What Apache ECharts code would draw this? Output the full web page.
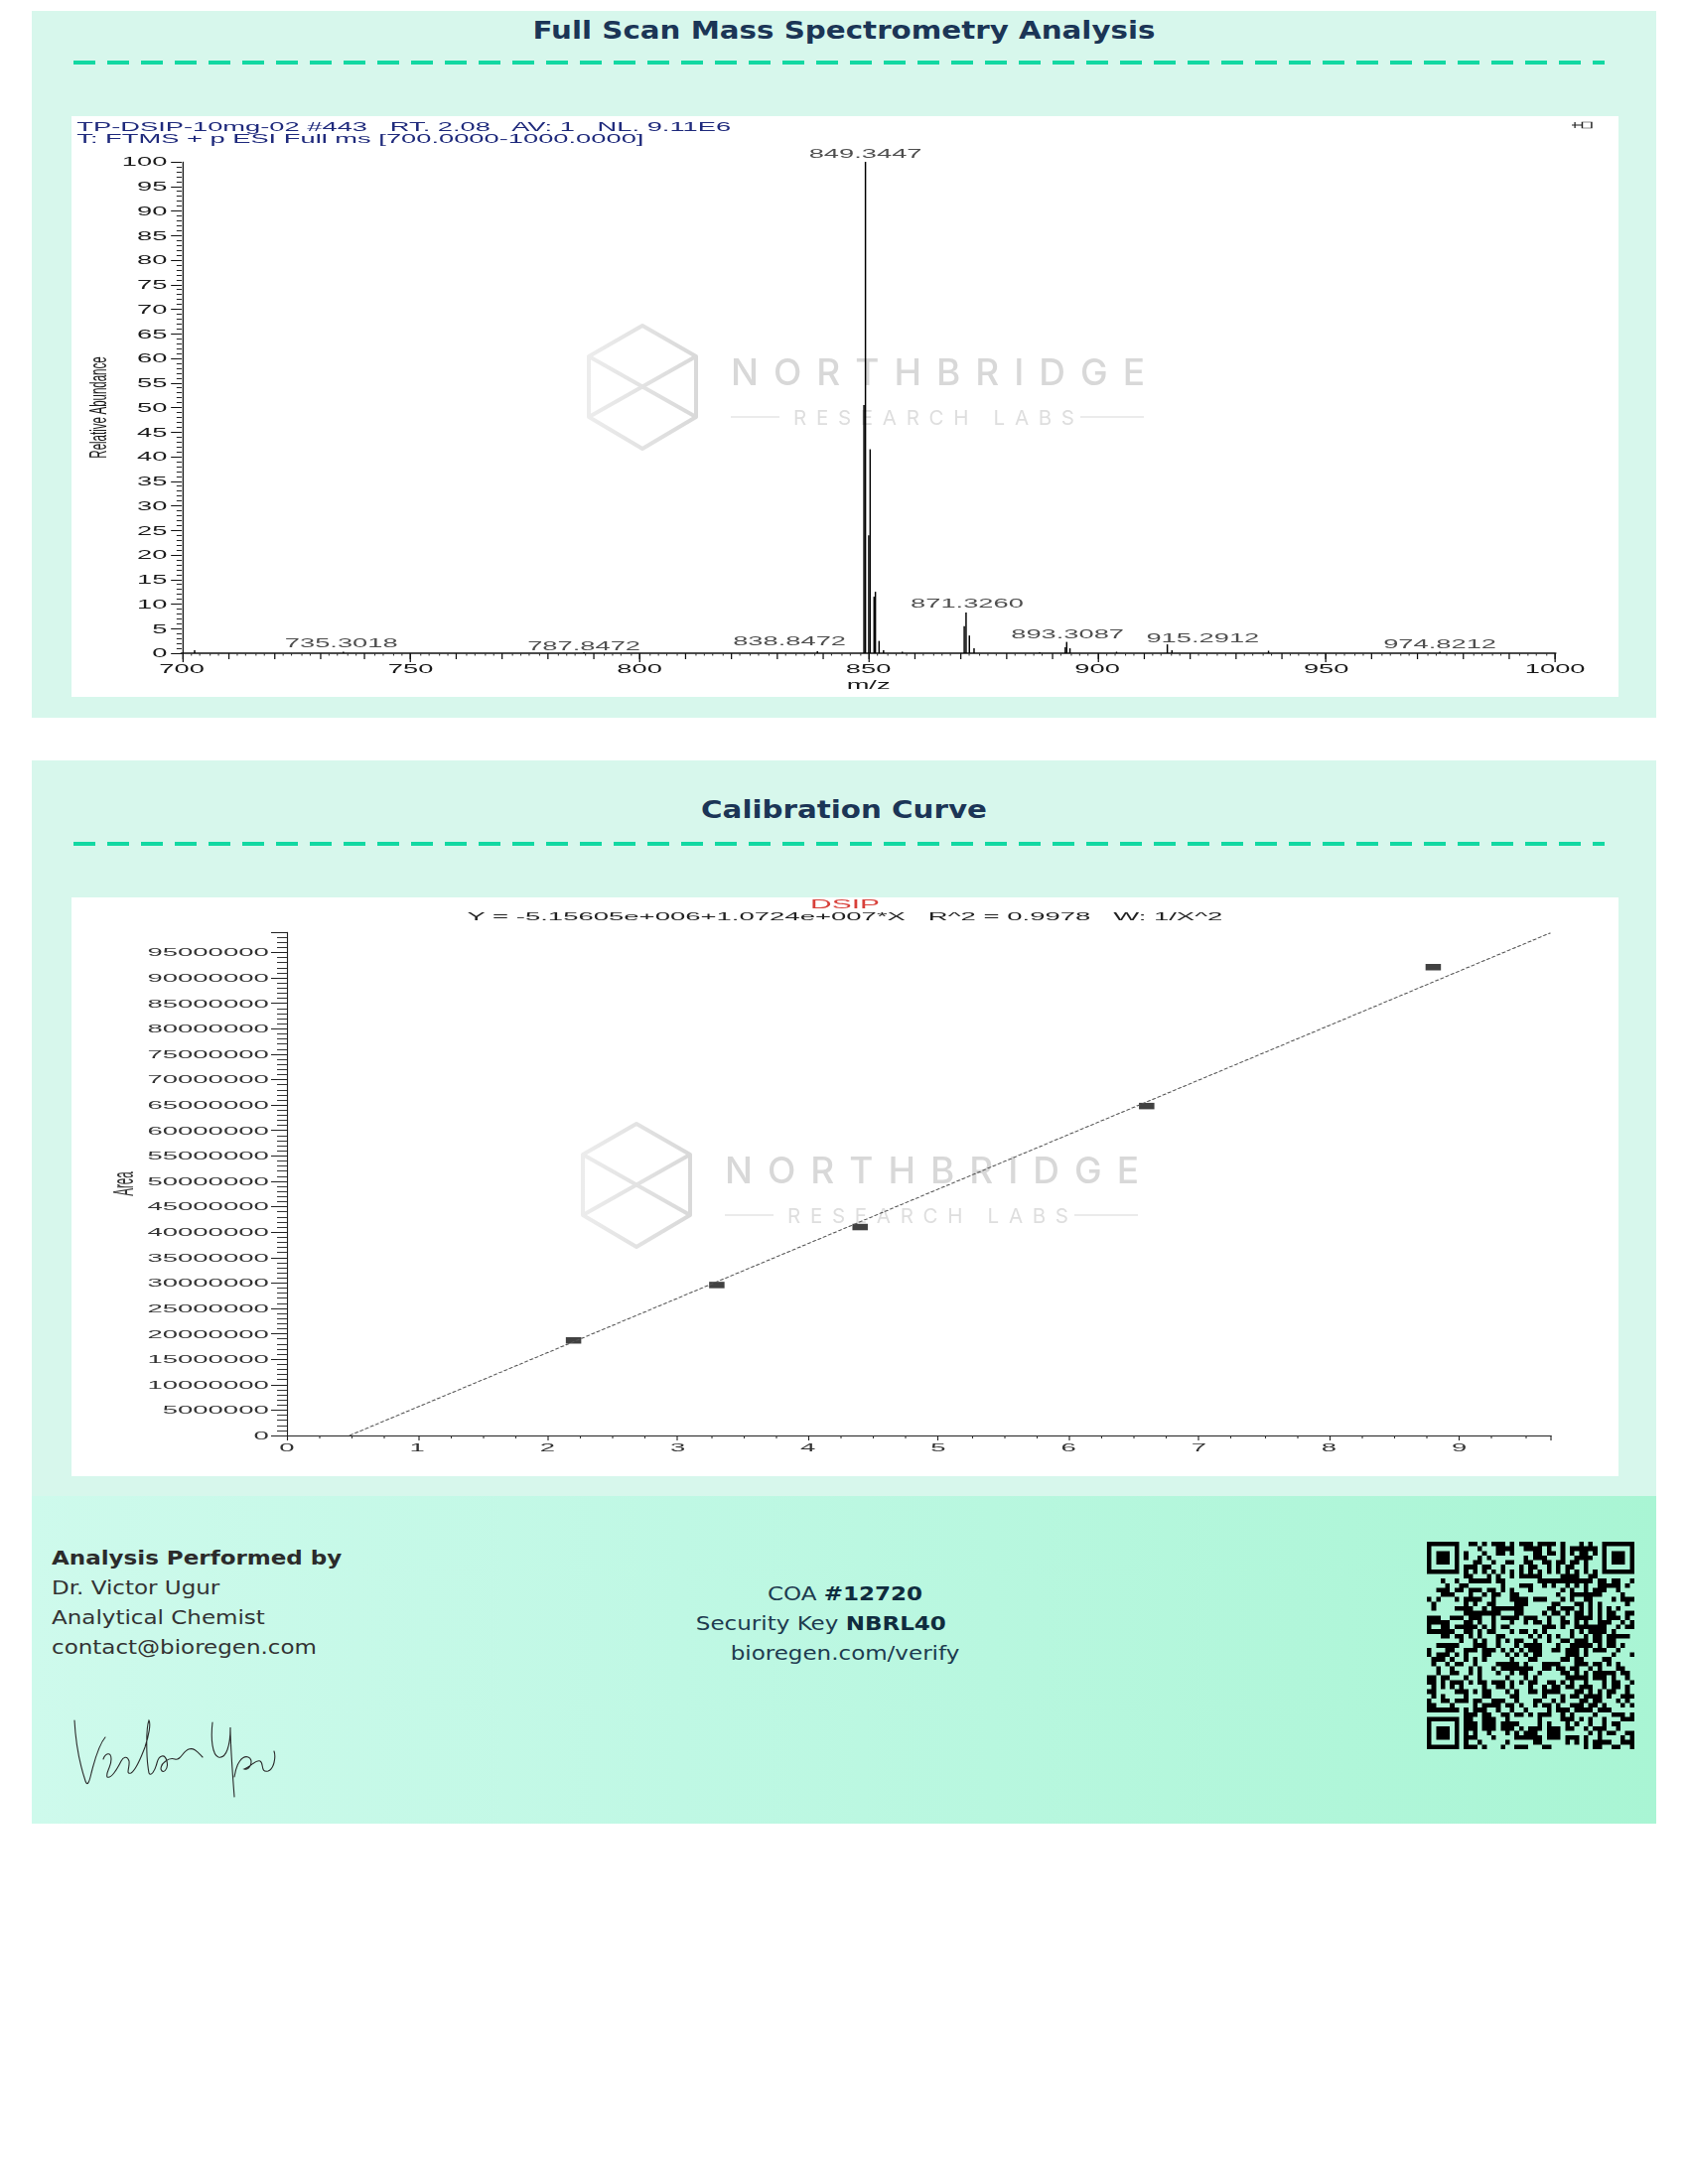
<!DOCTYPE html>
<html>
<head>
<meta charset="utf-8">
<script src="https://cdn.jsdelivr.net/npm/echarts@6.0.0/dist/echarts.min.js"></script>
<style>
  html, body { margin:0; padding:0; }
  body { width:1700px; height:2200px; background:#ffffff; position:relative; font-family:'DejaVu Sans', sans-serif; overflow:hidden; }
  .abs { position:absolute; }
  .panel { background:#d7f7ec; }
  .white { background:#ffffff; z-index:1; }
  .title { left:32px; width:1636px; text-align:center; font-weight:bold; font-size:25.5px; line-height:30px; color:#1b3556; transform:scaleX(1.15); transform-origin:center; }
  .dash { left:74px; width:1542px; height:4px; background:repeating-linear-gradient(90deg, #12d8a2 0px, #12d8a2 22px, transparent 22px, transparent 34px); }
  .chart { z-index:3; transform-origin:left top; }
  #wmsvg { z-index:2; pointer-events:none; }
  .foot { left:32px; top:1507px; width:1636px; height:330px; background:linear-gradient(90deg, #cefaec 0%, #bff8e4 40%, #a9f5d4 100%); }
  .ftxt { font-size:20px; line-height:30px; white-space:nowrap; }
</style>
</head>
<body>
<script>
// ---------------- DATA ----------------
// Full scan mass spectrum: centroid peaks (m/z, relative abundance %)
const specMz  = [702.8, 735.3, 787.85, 838.85, 849.02, 849.3447, 850.07, 850.37, 851.23, 851.52, 852.32, 853.3, 857.4,
                 870.93, 871.326, 872.05, 873.07, 887.4, 893.0, 893.3087, 894.02, 904.2, 915.2912, 916.3, 937.4, 974.8212];
const specInt = [0.6, 0.3, 0.2, 0.4, 50.5, 100, 24, 41.5, 11.5, 12.5, 2.5, 0.6, 0.3,
                 5.5, 8.3, 3.6, 1.0, 0.2, 1.2, 2.3, 1.0, 0.3, 1.8, 0.6, 0.5, 0.3];
const specLabels = ['849.3447', '871.3260', '893.3087', '915.2912', '974.8212', '735.3018', '787.8472', '838.8472'];
const specHeader1 = 'TP-DSIP-10mg-02 #443\u00a0\u00a0 RT. 2.08\u00a0\u00a0 AV: 1\u00a0\u00a0 NL. 9.11E6';
const specHeader2 = 'T: FTMS + p ESI Full ms [700.0000-1000.0000]';

// Calibration curve: concentration vs peak area
const calConc = [2.2, 3.3, 4.4, 6.6, 8.8];
const calArea = [18.7e6, 29.6e6, 41.0e6, 64.8e6, 92.1e6];
const calFitEnds = [[0.481, 0], [9.7, 98.86e6]];
const calTitle = 'DSIP';
const calEquation = 'Y = -5.15605e+006+1.0724e+007*X\u00a0\u00a0 R^2 = 0.9978\u00a0\u00a0 W: 1/X^2';
</script>

<!-- Panel 1 -->
<div class="abs panel" style="left:32px;top:11px;width:1636px;height:712px;"></div>
<div class="abs title" style="top:15px;">Full Scan Mass Spectrometry Analysis</div>
<div class="abs dash" style="top:61px;"></div>
<div class="abs white" style="left:72px;top:117px;width:1558px;height:585px;"></div>

<!-- Panel 2 -->
<div class="abs panel" style="left:32px;top:766px;width:1636px;height:745px;"></div>
<div class="abs title" style="top:800px;">Calibration Curve</div>
<div class="abs dash" style="top:848px;"></div>
<div class="abs white" style="left:72px;top:904px;width:1558px;height:583px;"></div>

<!-- Footer -->
<div class="abs foot"></div>
<div class="abs" style="left:52px;top:1554px;transform:scaleX(1.15);transform-origin:left top;">
  <div class="ftxt" style="font-weight:bold;color:#2b2b2b;">Analysis Performed by</div>
  <div class="ftxt" style="color:#333;">Dr. Victor Ugur</div>
  <div class="ftxt" style="color:#333;">Analytical Chemist</div>
  <div class="ftxt" style="color:#333;">contact@bioregen.com</div>
</div>
<div class="abs" style="left:651px;top:1590px;width:400px;text-align:center;transform:scaleX(1.15);transform-origin:center top;color:#1d3b4f;">
  <div class="ftxt">COA <b style="color:#0f2c3e;">#12720</b></div>
  <div class="ftxt" style="position:relative;left:-21px;">Security Key <b style="color:#0f2c3e;">NBRL40</b></div>
  <div class="ftxt">bioregen.com/verify</div>
</div>
<canvas id="qr" class="abs" style="left:1437px;top:1553px;width:209px;height:209px;" width="418" height="418"></canvas>

<!-- watermarks + signature -->
<svg id="wmsvg" class="abs" style="left:0;top:0;" width="1700" height="2200" viewBox="0 0 1700 2200">
  <defs>
    <linearGradient id="hexg" x1="0" y1="0" x2="1" y2="0">
      <stop offset="0" stop-color="#ececec"/>
      <stop offset="1" stop-color="#d9d9d9"/>
    </linearGradient>
    <g id="wm">
      <g stroke="url(#hexg)" stroke-width="4" fill="none" stroke-linejoin="round">
        <polygon points="647,328 701,359 701,420 647,452 593,420 593,359"/>
        <line x1="647" y1="328" x2="647" y2="452"/>
        <line x1="593" y1="359" x2="701" y2="420"/>
        <line x1="701" y1="359" x2="593" y2="420"/>
      </g>
      <text x="736" y="388" font-family="Inter, Lato, sans-serif" font-weight="500" font-size="37" fill="#d8d8d8" textLength="417" lengthAdjust="spacing">NORTHBRIDGE</text>
      <line x1="736" y1="420" x2="785" y2="420" stroke="#e4e4e4" stroke-width="1.5"/>
      <text x="799" y="428" font-family="Inter, Lato, sans-serif" font-size="20.5" fill="#dedede" textLength="283" lengthAdjust="spacing">RESEARCH LABS</text>
      <line x1="1088" y1="420" x2="1152" y2="420" stroke="#e4e4e4" stroke-width="1.5"/>
    </g>
  </defs>
  <use href="#wm"/>
  <g transform="translate(-6,804)"><use href="#wm"/></g>
  <g fill="none" stroke="#2a2a2a" stroke-width="1.1" stroke-linecap="round">
    <path d="M 75 1733 C 76 1752, 80 1776, 86 1794 C 88 1800, 90 1795, 92 1786 C 96 1770, 100 1757, 106 1750"/>
    <path d="M 104 1772 C 106 1766, 112 1764, 112 1772 C 112 1780, 106 1786, 108 1790 C 112 1792, 118 1782, 122 1774 C 124 1770, 128 1768, 130 1774 C 131 1780, 126 1788, 132 1786 C 138 1782, 142 1770, 146 1760 C 150 1748, 152 1736, 150 1733 C 147 1740, 147 1770, 150 1786 C 152 1790, 156 1784, 158 1776 C 160 1768, 166 1766, 168 1774 C 170 1782, 164 1788, 162 1782 C 162 1776, 170 1770, 176 1772 C 182 1774, 184 1764, 190 1762 C 196 1760, 200 1766, 204 1770"/>
    <path d="M 214 1735 C 212 1752, 214 1768, 220 1770 C 228 1772, 232 1758, 232 1740 C 232 1758, 234 1784, 236 1810"/>
    <path d="M 236 1790 C 238 1776, 244 1768, 250 1770 C 256 1772, 252 1784, 246 1782 C 252 1780, 258 1772, 262 1774 C 266 1776, 262 1786, 270 1784 C 276 1782, 278 1770, 276 1764"/>
  </g>
</svg>

<!-- charts (source images are horizontally stretched, so charts are drawn narrow and scaled in x) -->
<div id="spec" class="abs chart" style="left:72px;top:117px;width:741.9px;height:585px;transform:scaleX(2.1);"></div>
<div id="cal" class="abs chart" style="left:72px;top:904px;width:623.2px;height:583px;transform:scaleX(2.5);"></div>

<script>
// ---------------- Spectrum chart ----------------
const FONT = 'Liberation Sans, Arial, sans-serif';
const specChart = echarts.init(document.getElementById('spec'), null, {renderer: 'svg'});
const peakData = specMz.map((m, i) => [m, specInt[i]]);
// label pixel offsets (style only)
const labelOffsets = [[0, -8], [0.5, -9], [0.4, -7.6], [17, -6], [0, -7.5], [-1, -8.5], [0, -6], [-13.4, -10]];
const labelData = specLabels.map((t, i) => {
  const m = parseFloat(t);
  let k = 0;
  specMz.forEach((v, j) => { if (Math.abs(v - m) < Math.abs(specMz[k] - m)) k = j; });
  return { value: [specMz[k], specInt[k]], label: { formatter: t, offset: labelOffsets[i] } };
});

specChart.setOption({
  animation: false,
  textStyle: { fontFamily: FONT },
  grid: { left: 52.9, right: 30.5, top: 46, bottom: 44, containLabel: false, outerBoundsMode: 'none' },
  graphic: [
    { type: 'text', left: 2.5, top: 4, style: { text: specHeader1, fontSize: 13, fill: '#1f2a7c', fontFamily: FONT } },
    { type: 'text', left: 2.5, top: 16.5, style: { text: specHeader2, fontSize: 13, fill: '#1f2a7c', fontFamily: FONT } },
    { type: 'line', shape: { x1: 719.5, y1: 9, x2: 724.5, y2: 9 }, style: { stroke: '#222', lineWidth: 1 } },
    { type: 'line', shape: { x1: 721, y1: 6, x2: 721, y2: 12 }, style: { stroke: '#222', lineWidth: 0.6 } },
    { type: 'rect', shape: { x: 724.5, y: 6, width: 4.5, height: 6 }, style: { stroke: '#222', fill: 'none', lineWidth: 0.7 } }
  ],
  xAxis: [
    {
      type: 'value', position: 'bottom', offset: 0, min: 700, max: 1000, interval: 10,
      axisLine: { show: true, onZero: false, lineStyle: { color: '#111', width: 1.5 } },
      axisTick: { show: true, length: 6, lineStyle: { color: '#111', width: 0.6 } },
      minorTick: { show: true, splitNumber: 5, length: 2.5, lineStyle: { color: '#333', width: 0.5 } },
      axisLabel: { show: false }, splitLine: { show: false }
    },
    {
      type: 'value', position: 'bottom', offset: 0, min: 700, max: 1000, interval: 50,
      axisLine: { show: false, onZero: false },
      axisTick: { show: true, length: 9, lineStyle: { color: '#111', width: 0.6 } },
      axisLabel: { fontSize: 13, color: '#1a1a1a', margin: 9, fontFamily: FONT, formatter: v => String(v) },
      splitLine: { show: false },
      name: 'm/z', nameLocation: 'middle', nameGap: 25, nameMoveOverlap: false,
      nameTextStyle: { fontSize: 13, color: '#1a1a1a', fontFamily: FONT }
    }
  ],
  yAxis: {
    type: 'value', min: 0, max: 100, interval: 5,
    axisLine: { show: true, lineStyle: { color: '#111', width: 0.6 } },
    axisTick: { show: true, length: 5.2, lineStyle: { color: '#111', width: 1 } },
    minorTick: { show: true, splitNumber: 5, length: 2.5, lineStyle: { color: '#222', width: 1 } },
    axisLabel: { fontSize: 13, color: '#1a1a1a', margin: 7, fontFamily: FONT },
    splitLine: { show: false },
    name: 'Relative Abundance', nameLocation: 'middle', nameGap: 34, nameMoveOverlap: false,
    nameTextStyle: { fontSize: 11.5, color: '#1a1a1a', fontFamily: FONT }
  },
  series: [
    {
      type: 'custom', xAxisIndex: 0, yAxisIndex: 0, silent: true,
      data: peakData,
      renderItem: (params, api) => {
        const x = api.value(0), y = api.value(1);
        const p0 = api.coord([x, 0]);
        const p1 = api.coord([x, y]);
        return { type: 'line', shape: { x1: p0[0], y1: p0[1], x2: p1[0], y2: p1[1] },
                 style: { stroke: '#000', lineWidth: 0.7 } };
      }
    },
    {
      type: 'scatter', xAxisIndex: 0, yAxisIndex: 0, silent: true, clip: false,
      symbolSize: 0, data: labelData,
      label: { show: true, position: 'inside', fontSize: 13, color: '#222', fontFamily: FONT }
    }
  ]
});

// ---------------- Calibration chart ----------------
const calChart = echarts.init(document.getElementById('cal'), null, {renderer: 'svg'});
calChart.setOption({
  animation: false,
  textStyle: { fontFamily: FONT },
  grid: { left: 86.8, right: 27.2, top: 35, bottom: 41, containLabel: false, outerBoundsMode: 'none' },
  graphic: [
    { type: 'text', x: 311.6, y: 6.5, style: { text: calTitle, align: 'center', verticalAlign: 'middle', fontSize: 12, fill: '#d8403a', fontFamily: FONT } },
    { type: 'text', x: 311.6, y: 19, style: { text: calEquation, align: 'center', verticalAlign: 'middle', fontSize: 11, fill: '#222', fontFamily: FONT } }
  ],
  xAxis: {
    type: 'value', min: 0, max: 9.7, interval: 1,
    axisLine: { show: true, onZero: false, lineStyle: { color: '#222', width: 1 } },
    axisTick: { show: true, length: 5, lineStyle: { color: '#222', width: 0.45 } },
    minorTick: { show: true, splitNumber: 4, length: 3, lineStyle: { color: '#333', width: 0.45 } },
    axisLabel: { fontSize: 11, color: '#333', margin: 7, fontFamily: FONT,
                 formatter: v => (Math.abs(v - Math.round(v)) < 1e-9 ? String(Math.round(v)) : '') },
    splitLine: { show: false }
  },
  yAxis: {
    type: 'value', min: 0, max: 99e6, interval: 5e6,
    axisLine: { show: true, lineStyle: { color: '#222', width: 0.45 } },
    axisTick: { show: true, length: 6.4, lineStyle: { color: '#222', width: 1 } },
    minorTick: { show: true, splitNumber: 5, length: 4, lineStyle: { color: '#333', width: 1 } },
    axisLabel: { fontSize: 11, color: '#333', margin: 7.3, fontFamily: FONT,
                 formatter: v => (Math.round(v) % 5000000 === 0 ? String(Math.round(v)) : '') },
    splitLine: { show: false },
    name: 'Area', nameLocation: 'middle', nameGap: 60, nameMoveOverlap: false,
    nameTextStyle: { fontSize: 11.5, color: '#333', fontFamily: FONT }
  },
  series: [
    { type: 'line', data: calFitEnds, symbol: 'none', silent: true,
      lineStyle: { color: '#555', width: 0.8, type: [2, 1] } },
    { type: 'scatter', data: calConc.map((c, i) => [c, calArea[i]]), symbol: 'rect',
      symbolSize: [6.2, 6.5], itemStyle: { color: '#111' }, silent: true }
  ]
});

// ---------------- QR-like code (decorative) ----------------
(function () {
  const cv = document.getElementById('qr');
  const ctx = cv.getContext('2d');
  const N = 45, S = 418 / N;
  function finder(r, c) {
    const pos = [[0, 0], [0, N - 7], [N - 7, 0]];
    for (const [pr, pc] of pos) {
      const dr = r - pr, dc = c - pc;
      if (dr >= -1 && dr <= 7 && dc >= -1 && dc <= 7) {
        if (dr < 0 || dr > 6 || dc < 0 || dc > 6) return 0;
        if (dr === 0 || dr === 6 || dc === 0 || dc === 6) return 1;
        if (dr >= 2 && dr <= 4 && dc >= 2 && dc <= 4) return 1;
        return 0;
      }
    }
    return -1;
  }
  function hash(r, c) {
    let h = Math.imul(r + 7, 374761393) ^ Math.imul(c + 13, 668265263);
    h = Math.imul(h ^ (h >>> 13), 1274126177);
    h ^= h >>> 16;
    return h & 1;
  }
  ctx.fillStyle = '#000';
  for (let r = 0; r < N; r++) {
    for (let c = 0; c < N; c++) {
      let v = finder(r, c);
      if (v < 0) {
        if (r === 6) v = (c % 2 === 0) ? 1 : 0;
        else if (c === 6) v = (r % 2 === 0) ? 1 : 0;
        else v = hash(r, c);
      }
      if (v) {
        const x0 = Math.round(c * S), y0 = Math.round(r * S);
        const x1 = Math.round((c + 1) * S), y1 = Math.round((r + 1) * S);
        ctx.fillRect(x0, y0, x1 - x0, y1 - y0);
      }
    }
  }
})();
</script>
</body>
</html>
